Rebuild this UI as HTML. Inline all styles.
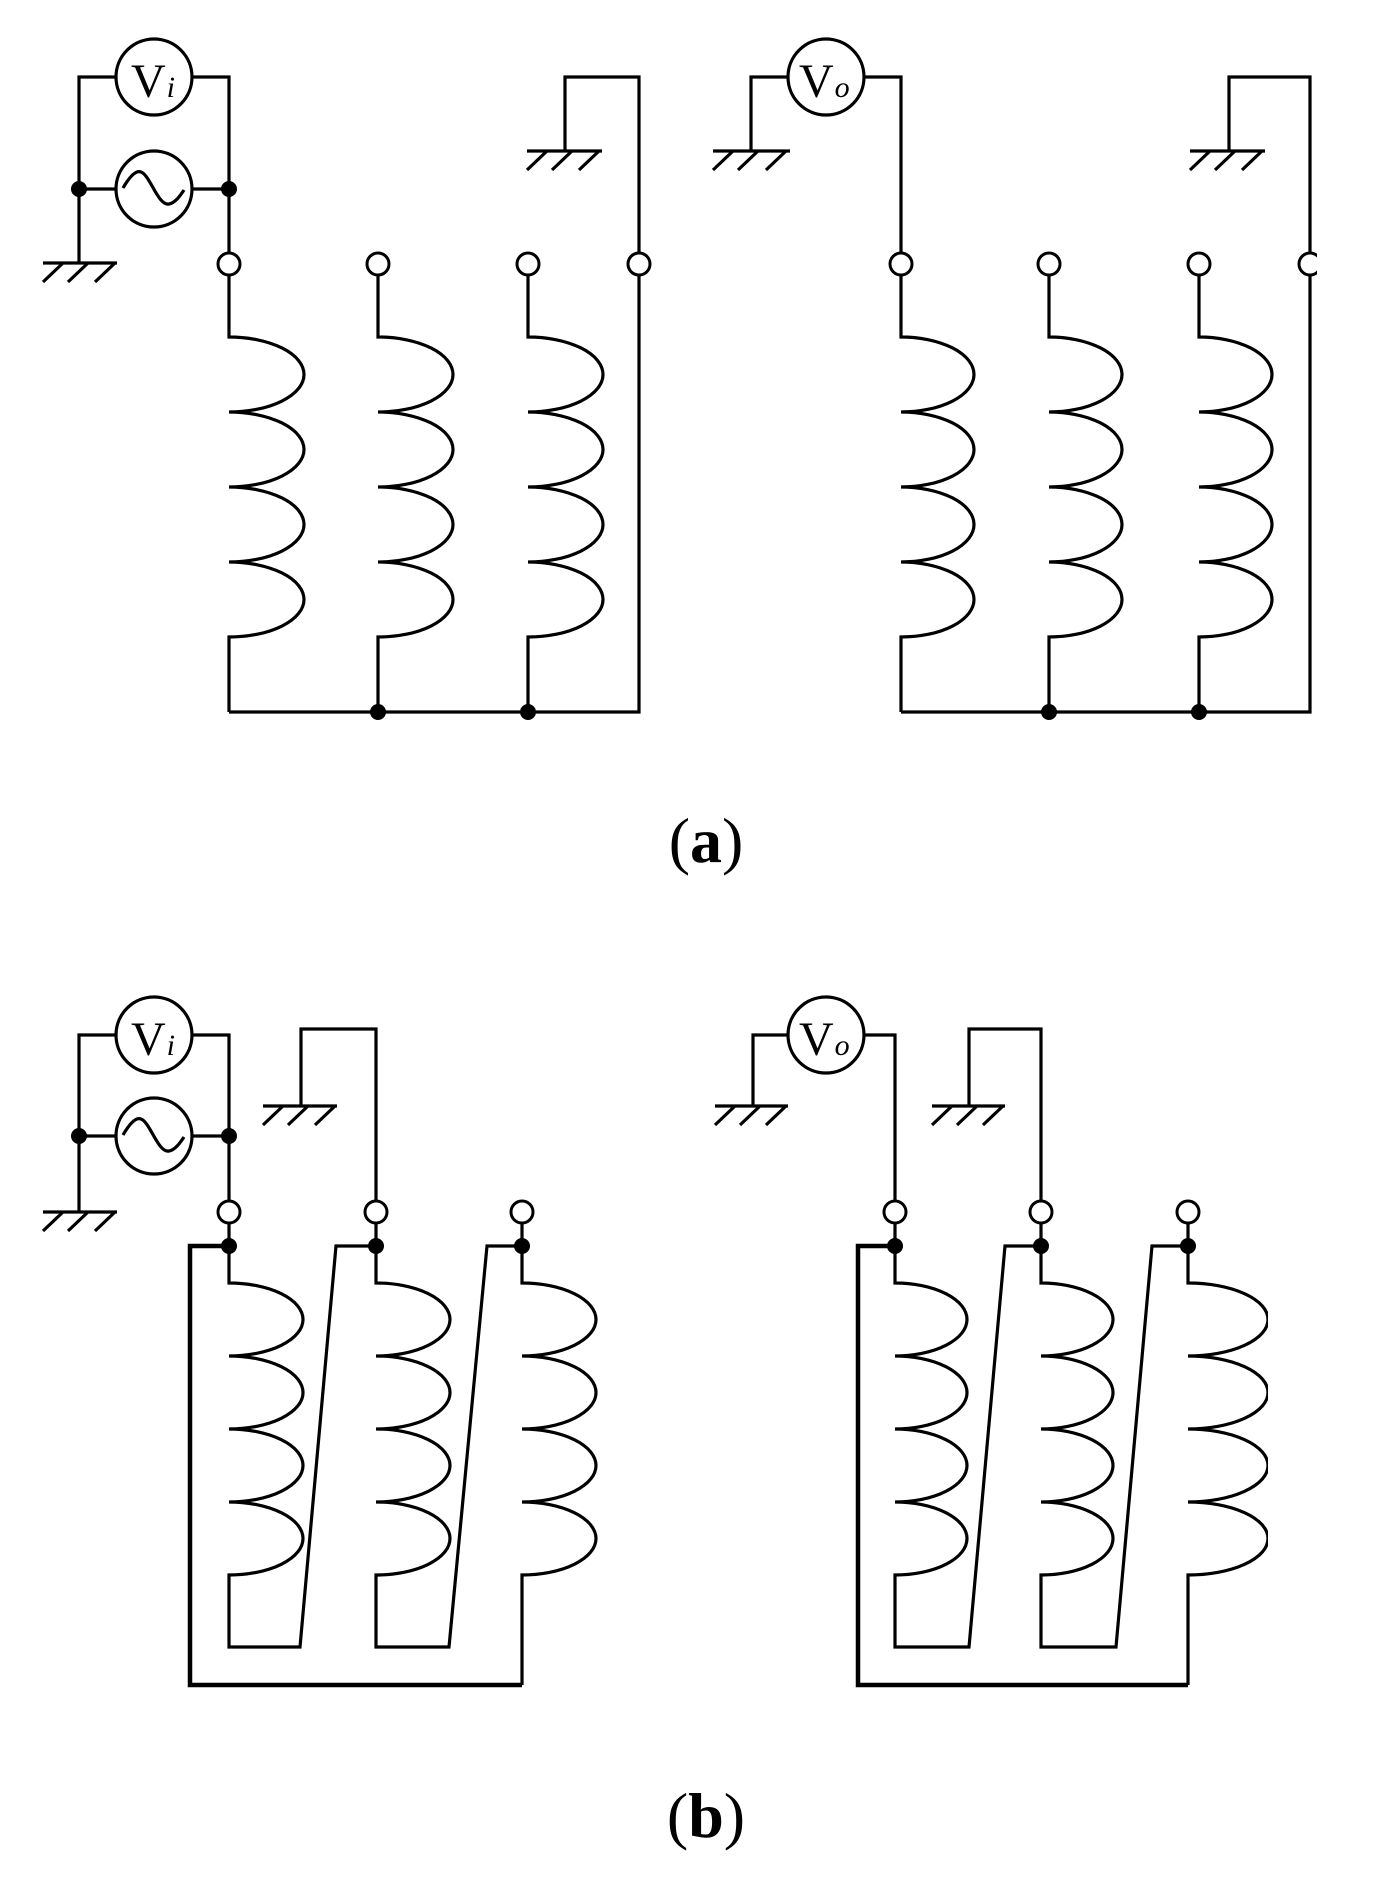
<!DOCTYPE html>
<html><head><meta charset="utf-8"><style>
html,body{margin:0;padding:0;background:#fff;}
svg{display:block;}
</style></head><body>
<svg width="1400" height="1902" viewBox="0 0 1400 1902" xmlns="http://www.w3.org/2000/svg">
<defs>
<clipPath id="cr"><rect x="0" y="0" width="1317" height="1902"/></clipPath>
<clipPath id="cb"><rect x="0" y="0" width="1268" height="1902"/></clipPath>
</defs>
<g fill="none" stroke="#000" stroke-width="3.2" stroke-linejoin="miter">

<!-- ===== Panel (a) left ===== -->
<path d="M79 189 V77 H116 M192 77 H229 V264"/>
<circle cx="154" cy="77" r="38"/>
<path d="M79 189 H116 M192 189 H229"/>
<circle cx="154" cy="189" r="38"/>
<path d="M123 188 C130 176 136 170 141 172 C150 175 158 206 169 204 C175 203 180 196 184 190"/>
<path d="M79 189 V263 M43 263 H117 M63 263 L43 282 M88 263 L68 282 M115 263 L95 282"/>
<path d="M229 275 V337 A75 37.5 0 0 1 229 412 A75 37.5 0 0 1 229 487 A75 37.5 0 0 1 229 562 A75 37.5 0 0 1 229 637 V712"/>
<path d="M378 275 V337 A75 37.5 0 0 1 378 412 A75 37.5 0 0 1 378 487 A75 37.5 0 0 1 378 562 A75 37.5 0 0 1 378 637 V712"/>
<path d="M528 275 V337 A75 37.5 0 0 1 528 412 A75 37.5 0 0 1 528 487 A75 37.5 0 0 1 528 562 A75 37.5 0 0 1 528 637 V712"/>
<path d="M229 712 H639 V77 H565 V151 M527 151 H602 M547 151 L527 170 M572 151 L552 170 M599 151 L579 170"/>

<!-- ===== Panel (a) right ===== -->
<path d="M751 151 V77 H788 M864 77 H901 V264"/>
<circle cx="826" cy="77" r="38"/>
<path d="M713 151 H790 M733 151 L713 170 M758 151 L738 170 M786 151 L766 170"/>
<path d="M901 275 V337 A73 37.5 0 0 1 901 412 A73 37.5 0 0 1 901 487 A73 37.5 0 0 1 901 562 A73 37.5 0 0 1 901 637 V712"/>
<path d="M1049 275 V337 A73 37.5 0 0 1 1049 412 A73 37.5 0 0 1 1049 487 A73 37.5 0 0 1 1049 562 A73 37.5 0 0 1 1049 637 V712"/>
<path d="M1199 275 V337 A73 37.5 0 0 1 1199 412 A73 37.5 0 0 1 1199 487 A73 37.5 0 0 1 1199 562 A73 37.5 0 0 1 1199 637 V712"/>
<path d="M901 712 H1310 V77 H1229 V151 M1190 151 H1265 M1210 151 L1190 170 M1235 151 L1215 170 M1262 151 L1242 170"/>
</g>

<g transform="translate(0,7)" fill="none" stroke="#000" stroke-width="3.2">
<!-- ===== Panel (b) left ===== -->
<path d="M79 1129 V1028 H116 M192 1028 H229 V1205"/>
<circle cx="154" cy="1028" r="38"/>
<path d="M79 1129 H116 M192 1129 H229"/>
<circle cx="154" cy="1129" r="38"/>
<path d="M123 1128 C130 1116 136 1110 141 1112 C150 1115 158 1146 169 1144 C175 1143 180 1136 184 1130"/>
<path d="M79 1129 V1205 M43 1205 H117 M63 1205 L43 1224 M88 1205 L68 1224 M115 1205 L95 1224"/>
<path d="M376 1205 V1022 H301 V1099 M263 1099 H337 M283 1099 L263 1118 M308 1099 L288 1118 M335 1099 L315 1118"/>
<path d="M229 1216 V1276 A74 36.5 0 0 1 229 1349 A74 36.5 0 0 1 229 1422 A74 36.5 0 0 1 229 1495 A74 36.5 0 0 1 229 1568 V1640 H300 L336 1239 H376"/>
<path d="M376 1216 V1276 A74 36.5 0 0 1 376 1349 A74 36.5 0 0 1 376 1422 A74 36.5 0 0 1 376 1495 A74 36.5 0 0 1 376 1568 V1640 H449 L487 1239 H522"/>
<path d="M522 1216 V1276 A74 36.5 0 0 1 522 1349 A74 36.5 0 0 1 522 1422 A74 36.5 0 0 1 522 1495 A74 36.5 0 0 1 522 1568 V1678"/>
<path d="M229 1239 H190 V1678 H522" stroke-width="4.5"/>

<!-- ===== Panel (b) right ===== -->
<g transform="translate(7,0)">
<path d="M746 1099 V1028 H781 M857 1028 H888 V1205"/>
<circle cx="819" cy="1028" r="38"/>
<path d="M708 1099 H781 M728 1099 L708 1118 M753 1099 L733 1118 M779 1099 L759 1118"/>
<path d="M1034 1205 V1022 H962 V1099 M925 1099 H998 M945 1099 L925 1118 M970 1099 L950 1118 M996 1099 L976 1118"/>
<path d="M888 1216 V1276 A72 36.5 0 0 1 888 1349 A72 36.5 0 0 1 888 1422 A72 36.5 0 0 1 888 1495 A72 36.5 0 0 1 888 1568 V1640 H962 L998 1239 H1034"/>
<path d="M1034 1216 V1276 A72 36.5 0 0 1 1034 1349 A72 36.5 0 0 1 1034 1422 A72 36.5 0 0 1 1034 1495 A72 36.5 0 0 1 1034 1568 V1640 H1109 L1145 1239 H1181"/>
<path d="M888 1239 H851 V1678 H1181" stroke-width="4.5"/>
</g>
<path clip-path="url(#cb)" d="M1188 1216 V1276 A80 36.5 0 0 1 1188 1349 A80 36.5 0 0 1 1188 1422 A80 36.5 0 0 1 1188 1495 A80 36.5 0 0 1 1188 1568 V1678"/>
</g>

<!-- terminals -->
<g fill="#fff" stroke="#000" stroke-width="3">
<circle cx="229" cy="264" r="11"/><circle cx="378" cy="264" r="11"/><circle cx="528" cy="264" r="11"/><circle cx="639" cy="264" r="11"/>
<circle cx="901" cy="264" r="11"/><circle cx="1049" cy="264" r="11"/><circle cx="1199" cy="264" r="11"/>
<circle cx="1310" cy="264" r="11" clip-path="url(#cr)"/>
<g transform="translate(0,7)">
<circle cx="229" cy="1205" r="11"/><circle cx="376" cy="1205" r="11"/><circle cx="522" cy="1205" r="11"/>
<circle cx="895" cy="1205" r="11"/><circle cx="1041" cy="1205" r="11"/><circle cx="1188" cy="1205" r="11"/>
</g>
</g>

<!-- junction dots -->
<g fill="#000">
<circle cx="79" cy="189" r="8"/><circle cx="229" cy="189" r="8"/>
<circle cx="378" cy="712" r="8"/><circle cx="528" cy="712" r="8"/>
<circle cx="1049" cy="712" r="8"/><circle cx="1199" cy="712" r="8"/>
<g transform="translate(0,7)">
<circle cx="79" cy="1129" r="8"/><circle cx="229" cy="1129" r="8"/>
<circle cx="229" cy="1239" r="8"/><circle cx="376" cy="1239" r="8"/><circle cx="522" cy="1239" r="8"/>
<circle cx="895" cy="1239" r="8"/><circle cx="1041" cy="1239" r="8"/><circle cx="1188" cy="1239" r="8"/>
</g>
</g>

<!-- labels -->
<g font-family="Liberation Serif, serif" fill="#000">
<text x="131" y="97" font-size="48">V<tspan font-size="30" font-style="italic" dx="1">i</tspan></text>
<text x="799" y="97" font-size="48">V<tspan font-size="30" font-style="italic" dx="1">o</tspan></text>
<text x="131" y="1055" font-size="48">V<tspan font-size="30" font-style="italic" dx="1">i</tspan></text>
<text x="799" y="1055" font-size="48">V<tspan font-size="30" font-style="italic" dx="1">o</tspan></text>
<text x="706" y="862" font-size="64" text-anchor="middle">(<tspan font-weight="bold">a</tspan>)</text>
<text x="706" y="1837" font-size="64" text-anchor="middle">(<tspan font-weight="bold">b</tspan>)</text>
</g>
</svg>
</body></html>
